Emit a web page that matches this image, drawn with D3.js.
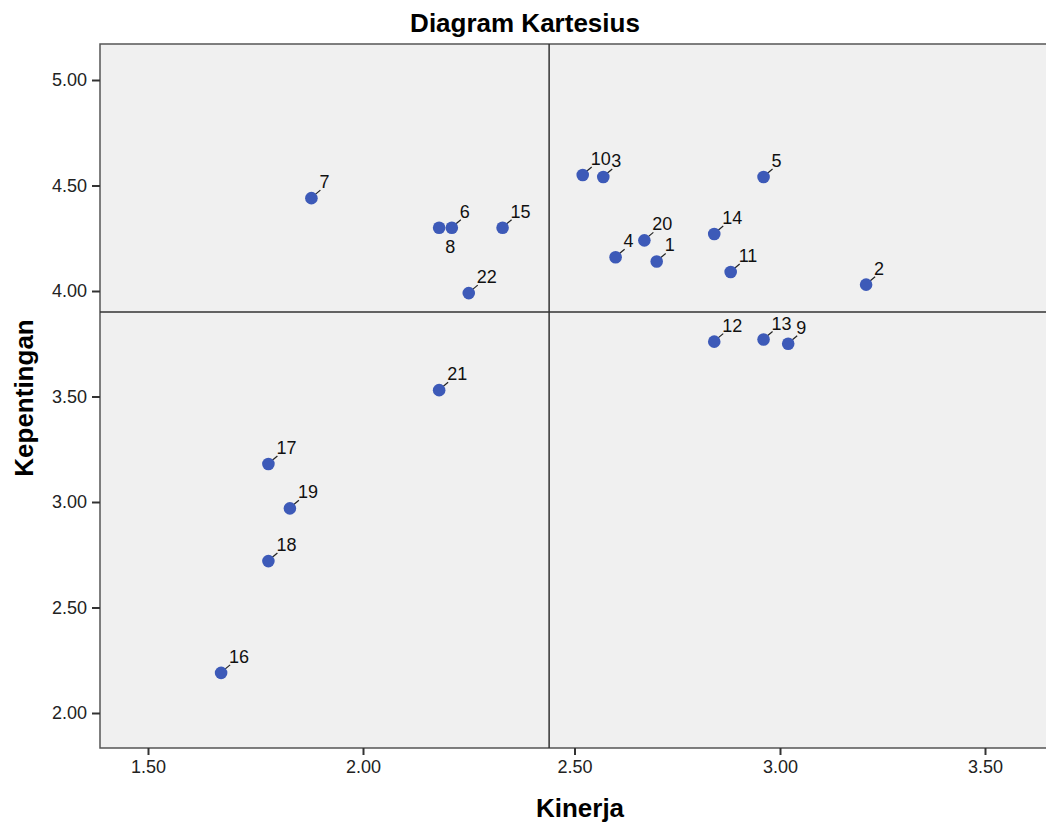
<!DOCTYPE html>
<html>
<head>
<meta charset="utf-8">
<script src="https://cdn.jsdelivr.net/npm/d3@7"></script>
<style>
  body { margin: 0; background: #fff; }
  svg { font-family: "Liberation Sans", Arial, sans-serif; }
</style>
</head>
<body>
<svg id="chart" width="1046" height="826"></svg>
<script>
// Data
const ids       = ['1', '2', '3', '4', '5', '6', '7', '8', '9', '10', '11', '12', '13', '14', '15', '16', '17', '18', '19', '20', '21', '22'];
const kinerja   = [2.70, 3.21, 2.57, 2.60, 2.96, 2.21, 1.88, 2.18, 3.02, 2.52, 2.88, 2.84, 2.96, 2.84, 2.33, 1.67, 1.78, 1.78, 1.83, 2.67, 2.18, 2.25];
const kepentingan = [4.14, 4.03, 4.54, 4.16, 4.54, 4.30, 4.44, 4.30, 3.75, 4.55, 4.09, 3.76, 3.77, 4.27, 4.30, 2.19, 3.18, 2.72, 2.97, 4.24, 3.53, 3.99];
const xTicks = [1.5, 2.0, 2.5, 3.0, 3.5];
const yTicks = [2.0, 2.5, 3.0, 3.5, 4.0, 4.5, 5.0];
const meanKinerja = 2.44;
const meanKepentingan = 3.90;
const labelsBelow = ['8'];

const points = ids.map((id, i) => ({ id, x: kinerja[i], y: kepentingan[i] }));

const svg = d3.select('#chart');
const plot = { left: 100, top: 44, right: 1052, bottom: 748 };

// tick spacing in the picture is not quite even, so use a piecewise scale
const x = d3.scaleLinear().domain(xTicks).range([148, 363, 574.5, 780, 985]);
const y = d3.scaleLinear().domain([2, 5]).range([713, 80]);

// Plot background
svg.append('rect')
  .attr('x', plot.left)
  .attr('y', plot.top)
  .attr('width', plot.right - plot.left)
  .attr('height', plot.bottom - plot.top)
  .style('fill', '#f0f0f0')
  .style('stroke', '#555')
  .style('stroke-width', 1.5);

// Axes
const xAxis = svg.append('g')
  .attr('transform', `translate(0,${plot.bottom})`)
  .call(d3.axisBottom(x).tickValues(xTicks).tickFormat(d3.format('.2f')).tickSize(7).tickPadding(5));

const yAxis = svg.append('g')
  .attr('transform', `translate(${plot.left},0)`)
  .call(d3.axisLeft(y).tickValues(yTicks).tickFormat(d3.format('.2f')).tickSize(8).tickPadding(5));

[xAxis, yAxis].forEach(a => {
  a.select('.domain').remove();
  a.selectAll('line').style('stroke', '#333').style('stroke-width', 2);
  a.selectAll('text').style('font-size', '18px').style('fill', '#222')
    .style('font-family', '"Liberation Sans", Arial, sans-serif');
});

// Reference lines (means)
svg.append('line')
  .attr('x1', x(meanKinerja)).attr('x2', x(meanKinerja))
  .attr('y1', plot.top).attr('y2', plot.bottom)
  .style('stroke', '#333').style('stroke-width', 1.5);

svg.append('line')
  .attr('x1', plot.left).attr('x2', plot.right)
  .attr('y1', y(meanKepentingan)).attr('y2', y(meanKepentingan))
  .style('stroke', '#333').style('stroke-width', 1.5);

// Leader lines
svg.selectAll('.leader')
  .data(points.filter(d => !labelsBelow.includes(d.id)))
  .enter().append('line')
  .attr('class', 'leader')
  .attr('x1', d => x(d.x) + 3).attr('y1', d => y(d.y) - 3)
  .attr('x2', d => x(d.x) + 9).attr('y2', d => y(d.y) - 8)
  .style('stroke', '#222').style('stroke-width', 1.2);

// Points
svg.selectAll('.dot')
  .data(points)
  .enter().append('circle')
  .attr('class', 'dot')
  .attr('cx', d => x(d.x))
  .attr('cy', d => y(d.y))
  .attr('r', 6.3)
  .style('fill', '#3d5ab8');

// Point labels
svg.selectAll('.label')
  .data(points)
  .enter().append('text')
  .attr('class', 'label')
  .attr('x', d => labelsBelow.includes(d.id) ? x(d.x) + 6 : x(d.x) + 8)
  .attr('y', d => labelsBelow.includes(d.id) ? y(d.y) + 25 : y(d.y) - 10)
  .style('font-size', '18px')
  .style('fill', '#111')
  .text(d => d.id);

// Titles
svg.append('text')
  .attr('x', 525).attr('y', 32)
  .attr('text-anchor', 'middle')
  .style('font-size', '26px').style('font-weight', 'bold')
  .text('Diagram Kartesius');

svg.append('text')
  .attr('x', 580).attr('y', 817)
  .attr('text-anchor', 'middle')
  .style('font-size', '26px').style('font-weight', 'bold')
  .text('Kinerja');

svg.append('text')
  .attr('transform', `translate(33,398) rotate(-90)`)
  .attr('text-anchor', 'middle')
  .style('font-size', '26px').style('font-weight', 'bold')
  .text('Kepentingan');
</script>
</body>
</html>
